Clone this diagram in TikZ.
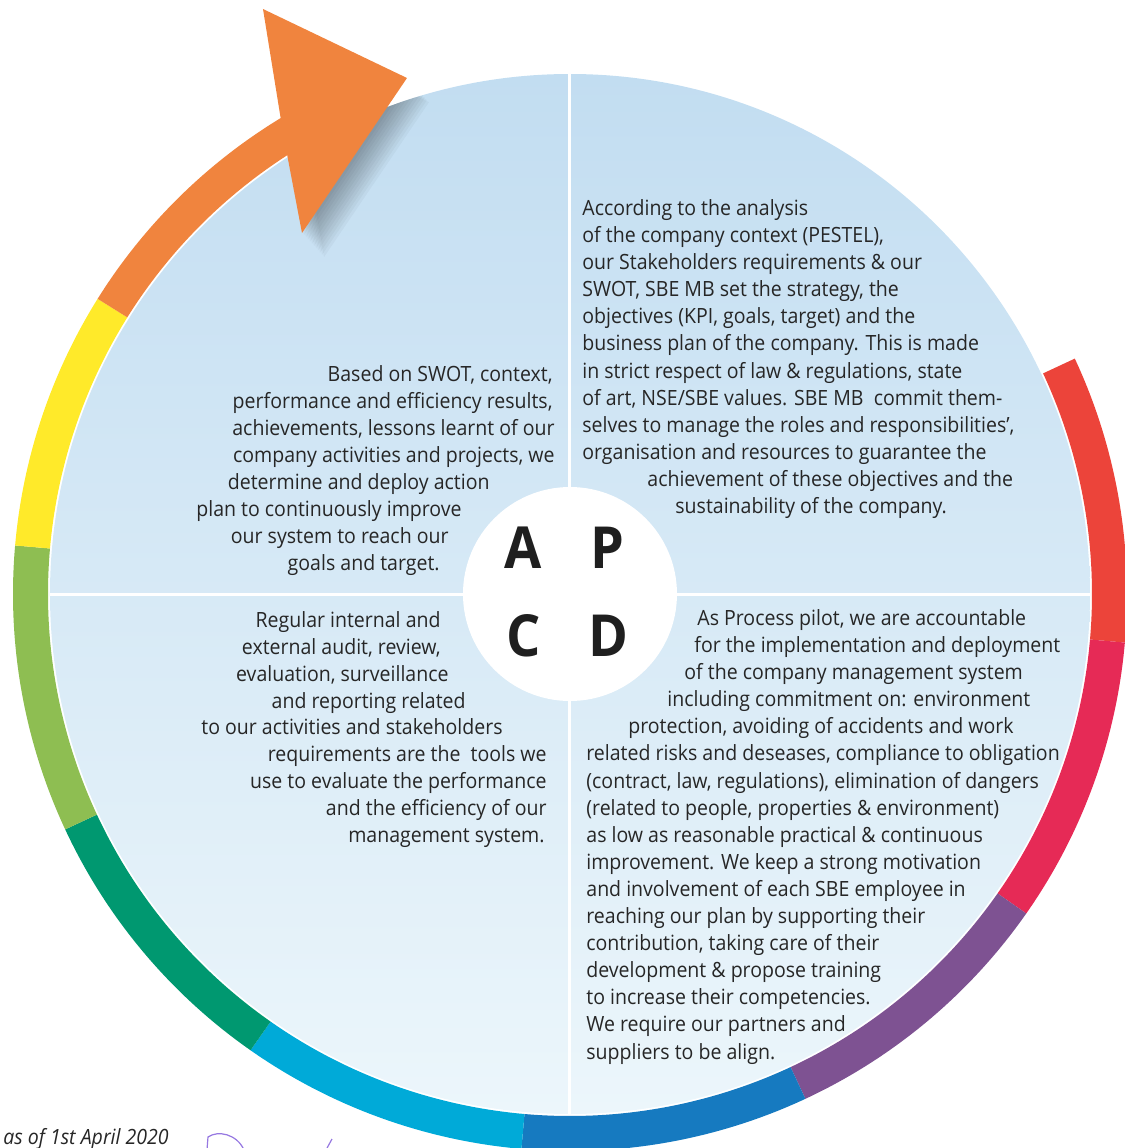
\documentclass[tikz,border=0pt]{standalone}
\usepackage{fontspec}
\setmainfont{Open Sans}[FakeStretch=0.93]
\usepackage{tikz}
\usepackage{xcolor}
\definecolor{ringred}{RGB}{236,68,58}
\definecolor{ringrose}{RGB}{230,42,86}
\definecolor{ringpurple}{RGB}{126,82,146}
\definecolor{ringblue}{RGB}{22,122,192}
\definecolor{ringcyan}{RGB}{0,170,216}
\definecolor{ringteal}{RGB}{0,152,112}
\definecolor{ringlime}{RGB}{142,190,82}
\definecolor{ringyellow}{RGB}{255,234,42}
\definecolor{ringorange}{RGB}{240,132,62}
\definecolor{disctop}{RGB}{194,221,241}
\definecolor{discmid}{RGB}{221,237,248}
\definecolor{discbot}{RGB}{236,246,251}
\definecolor{inktext}{RGB}{38,38,38}
\definecolor{signpurple}{RGB}{150,120,225}

\begin{document}
\begin{tikzpicture}[x=0.5pt, y=0.5pt,
    txt/.style={inner sep=0pt, text=inktext, font=\fontsize{10.5}{13}\selectfont},
    letter/.style={inner sep=0pt, text=black!88, font=\fontsize{29}{29}\selectfont\bfseries}]
    \useasboundingbox (-570,-554) rectangle (555,594);
    % Disco
    \shade[top color=disctop, middle color=discmid, bottom color=discbot] (0,0) circle (520);
    % Sombra da seta
    \begin{scope}
        \clip (0,0) circle (520);
        \foreach \s in {2,4,...,22}
            \fill[black, opacity=0.03, shift={(\s,-1.1*\s)}] (-307,585) -- (-163,516) -- (-268,361) -- cycle;
    \end{scope}
    % Divisores
    \draw[white, line width=1.5pt] (0,520) -- (0,-520);
    \draw[white, line width=1.5pt] (-520,0) -- (520,0);
    \fill[white] (0,0) circle (107);
    % Anel
    \foreach \c/\a/\b in {ringred/25/-5, ringrose/-5/-35, ringpurple/-35/-65,
        ringblue/-65/-95, ringcyan/-95/-125, ringteal/-125/-155,
        ringlime/-155/-185, ringyellow/-185/-212}
        \fill[\c] (\a:557) arc[start angle=\a, end angle=\b, radius=557]
            -- (\b:522) arc[start angle=\b, end angle=\a, radius=522] -- cycle;
    % Seta
    \fill[ringorange] (148:557) arc[start angle=148, end angle=121.3, radius=557]
        -- (-307,585) -- (-163,516) -- (-268,361)
        -- (122.8:522) arc[start angle=122.8, end angle=148, radius=522] -- cycle;
    % Letras
    \node[letter] (A) at (-47,46) {A};
    \node[letter] (P) at (37,46) {P};
    \node[letter] (C) at (-46,-42) {C};
    \node[letter] (D) at (38,-42) {D};
    % Act
    \foreach \x/\y/\lin [count=\i] in {
        -17/213/{Based on SWOT, context,},
        -17/186/{performance and efficiency results,},
        -15/159/{achievements, lessons learnt of our},
        -15/132/{company activities and projects, we},
        -80/105/{determine and deploy action},
        -108/78/{plan to continuously improve},
        -121/51/{our system to reach our},
        -130/24/{goals and target.}}
        \node[txt, anchor=base east] (act\i) at (\x,\y) {\lin};
    % Plan
    \foreach \x/\y/\lin [count=\i] in {
        12/379/{According to the analysis},
        12/352/{of the company context (PESTEL),},
        12/325/{our Stakeholders requirements \& our},
        12/298/{SWOT, SBE MB set the strategy, the},
        12/271/{objectives (KPI, goals, target) and the},
        12/244/{business plan of the company. This is made},
        12/216/{in strict respect of law \& regulations, state},
        12/189/{of art, NSE/SBE values. SBE MB\ \ commit them-},
        12/162/{selves to manage the roles and responsibilities’,},
        12/135/{organisation and resources to guarantee the},
        77/108/{achievement of these objectives and the},
        105/81/{sustainability of the company.}}
        \node[txt, anchor=base west] (plan\i) at (\x,\y) {\lin};
    % Check
    \foreach \x/\y/\lin [count=\i] in {
        -129/-33/{Regular internal and},
        -129/-60/{external audit, review,},
        -121/-87/{evaluation, surveillance},
        -104/-114/{and reporting related},
        -67/-140/{to our activities and stakeholders},
        -23/-167/{requirements are the\ \ tools we},
        -23/-194/{use to evaluate the performance},
        -23/-221/{and the efficiency of our},
        -25/-248/{management system.}}
        \node[txt, anchor=base east] (chk\i) at (\x,\y) {\lin};
    % Do
    \foreach \x/\y/\lin [count=\i] in {
        127/-31/{As Process pilot, we are accountable},
        124/-58/{for the implementation and deployment},
        114/-85/{of the company management system},
        97/-112/{including commitment on: environment},
        58/-139/{protection, avoiding of accidents and work},
        16/-166/{related risks and deseases, compliance to obligation},
        16/-194/{(contract, law, regulations), elimination of dangers},
        16/-221/{(related to people, properties \& environment)},
        16/-248/{as low as reasonable practical \& continuous},
        16/-275/{improvement. We keep a strong motivation},
        16/-302/{and involvement of each SBE employee in},
        16/-329/{reaching our plan by supporting their},
        16/-356/{contribution, taking care of their},
        16/-383/{development \& propose training},
        16/-410/{to increase their competencies.},
        16/-437/{We require our partners and},
        16/-465/{suppliers to be align.}}
        \node[txt, anchor=base west] (do\i) at (\x,\y) {\lin};
    % Rodape
    \node[inner sep=0pt, anchor=base west, text=inktext, font=\fontsize{10.5}{12}\selectfont\itshape]
        (date) at (-567,-550) {as of 1st April 2020};
    \draw[signpurple, line width=0.6pt] (-363,-556) -- (-362,-543)
        .. controls (-352,-536) and (-333,-540) .. (-326,-556);
    \draw[signpurple, line width=0.6pt] (-244,-556) -- (-238,-545);
\end{tikzpicture}
\end{document}
